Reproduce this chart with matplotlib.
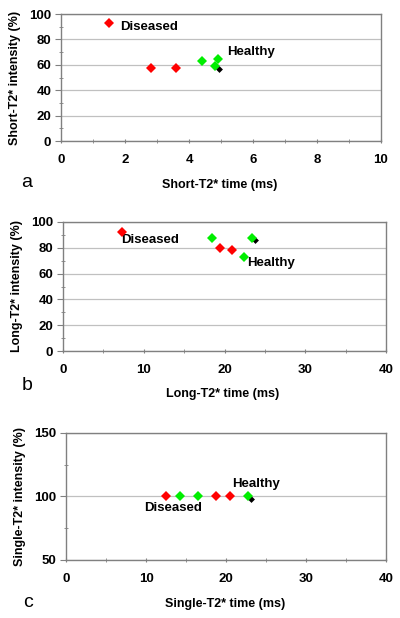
import matplotlib.pyplot as plt
from matplotlib.ticker import MultipleLocator

plt.rcParams["font.family"] = ["Liberation Sans", "DejaVu Sans"]

# panel a: short-T2*
short_dis_t = [1.5, 2.8, 3.6]
short_dis_i = [92.7, 57.3, 57.3]
short_hea_t = [4.4, 4.8, 4.9]
short_hea_i = [63.0, 59.0, 64.5]
short_mean = (4.93, 56.7)

# panel b: long-T2*
long_dis_t = [7.3, 19.4, 20.9]
long_dis_i = [92.0, 80.0, 78.0]
long_hea_t = [18.5, 22.4, 23.4]
long_hea_i = [87.3, 72.9, 87.8]
long_mean = (23.8, 85.8)

# panel c: single-T2*
single_dis_t = [12.5, 18.7, 20.5]
single_dis_i = [100.0, 100.0, 100.0]
single_hea_t = [14.2, 16.5, 22.7]
single_hea_i = [100.0, 100.0, 100.0]
single_mean = (23.1, 98.3)

RED = "#ff0000"
GREEN = "#00ee00"
FRAME = "#808080"
GRID = "#c0c0c0"

fig = plt.figure(figsize=(4.0, 6.18), dpi=100)


def _panel(rect, dis_t, dis_i, hea_t, hea_i, mean, xlim, xmaj, ylim, ymaj,
           xlabel, ylabel, letter, xlab_pos, ylab_pos, letter_pos, dis_txt, hea_txt):
    ax = fig.add_axes(rect)
    ax.set_xlim(*xlim)
    ax.set_ylim(*ylim)
    ax.xaxis.set_major_locator(MultipleLocator(xmaj))
    ax.xaxis.set_minor_locator(MultipleLocator(xmaj / 2))
    ax.yaxis.set_major_locator(MultipleLocator(ymaj))
    ax.yaxis.set_minor_locator(MultipleLocator(ymaj / 2))
    ax.grid(True, which="major", axis="y", color=GRID, lw=0.9)
    ax.set_axisbelow(True)
    for s in ax.spines.values():
        s.set_color(FRAME)
        s.set_linewidth(1.0)
    ax.tick_params(which="major", axis="y", direction="out", length=4, color=FRAME, pad=3)
    ax.tick_params(which="minor", axis="y", direction="inout", length=3, color=FRAME)
    ax.tick_params(which="both", axis="x", direction="inout", length=3, color=FRAME, pad=8)
    ax.tick_params(labelsize=9.5)
    for lab in ax.get_xticklabels() + ax.get_yticklabels():
        lab.set_fontweight("bold")

    ax.plot([mean[0]], [mean[1]], "D", color="black", ms=3.5, mew=0, zorder=3)
    ax.plot(dis_t, dis_i, "D", color=RED, ms=5.5, mew=0, ls="none", zorder=4, clip_on=False)
    ax.plot(hea_t, hea_i, "D", color=GREEN, ms=5.5, mew=0, ls="none", zorder=4, clip_on=False)

    ax.text(dis_txt[0], dis_txt[1], "Diseased", fontsize=9.5, fontweight="bold",
            ha="left", va="center")
    ax.text(hea_txt[0], hea_txt[1], "Healthy", fontsize=9.5, fontweight="bold",
            ha="left", va="center")

    fig.text(xlab_pos[0], xlab_pos[1], xlabel, fontsize=9, fontweight="bold",
             ha="center", va="center")
    fig.text(ylab_pos[0], ylab_pos[1], ylabel, fontsize=9, fontweight="bold",
             ha="center", va="center", rotation=90)
    fig.text(letter_pos[0], letter_pos[1], letter, fontsize=14, ha="center", va="center")
    return ax


_panel([0.1525, 0.7718, 0.80, 0.2055], short_dis_t, short_dis_i, short_hea_t, short_hea_i,
       short_mean, (0, 10), 2, (0, 100), 20,
       "Short-T2* time (ms)", "Short-T2* intensity (%)", "a",
       (0.55, 0.7006), (0.0375, 0.874), (0.0675, 0.7055), (1.85, 89.5), (5.18, 70.3))

_panel([0.1575, 0.4320, 0.8075, 0.2088], long_dis_t, long_dis_i, long_hea_t, long_hea_i,
       long_mean, (0, 40), 10, (0, 100), 20,
       "Long-T2* time (ms)", "Long-T2* intensity (%)", "b",
       (0.557, 0.3625), (0.042, 0.537), (0.0675, 0.377), (7.2, 85.8), (22.8, 68.4))

_panel([0.165, 0.0939, 0.80, 0.2055], single_dis_t, single_dis_i, single_hea_t, single_hea_i,
       single_mean, (0, 40), 10, (50, 150), 50,
       "Single-T2* time (ms)", "Single-T2* intensity (%)", "c",
       (0.5625, 0.0227), (0.05, 0.196), (0.07, 0.0243), (9.8, 91.2), (20.8, 109.8))

fig.savefig("out.png", dpi=100)
